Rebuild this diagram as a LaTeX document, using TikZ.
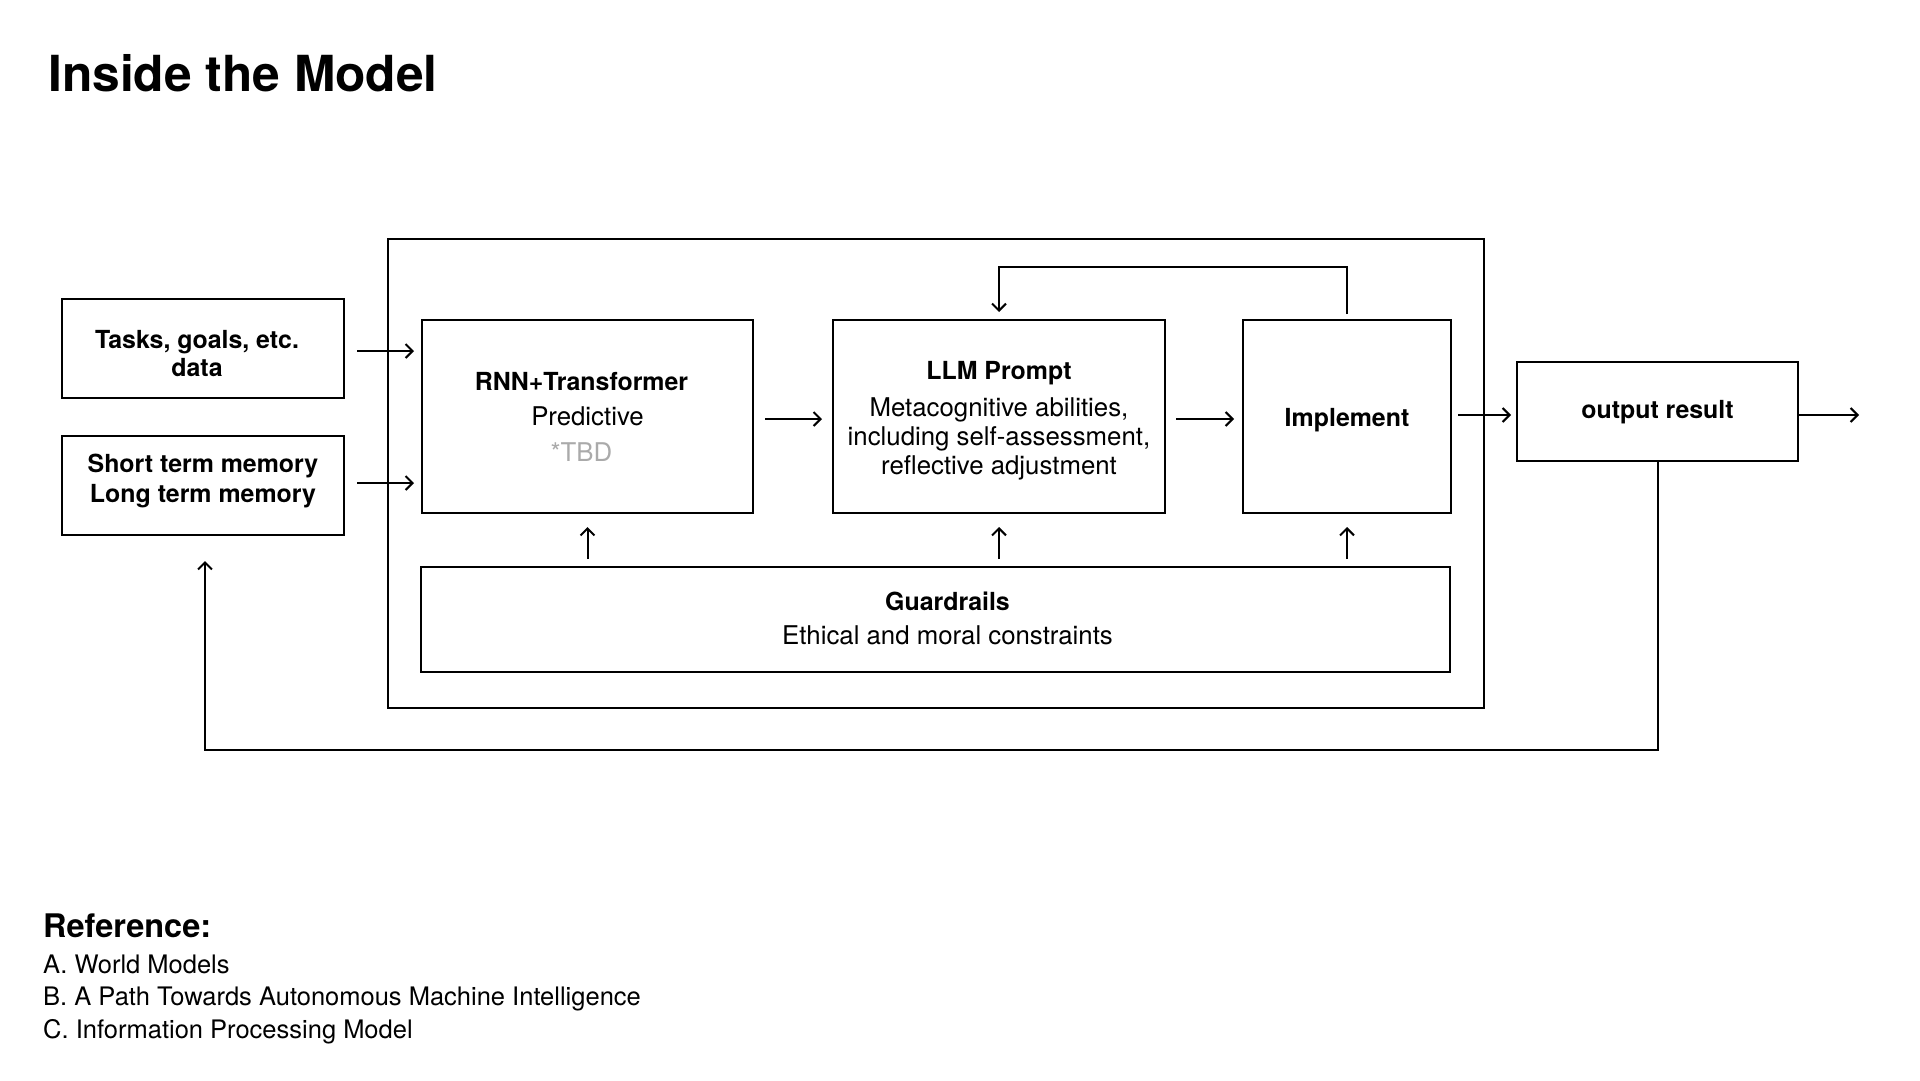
\documentclass[tikz,border=0pt]{standalone}
\usepackage{fontspec}
\setmainfont{TeX Gyre Heros}
\usetikzlibrary{arrows.meta,calc}
\definecolor{tbdgray}{HTML}{AAAAAA}
\newcommand\mvtext[2]{\raisebox{#1}[\height][\depth]{#2}}
\begin{document}
\begin{tikzpicture}[x=1pt,y=-1pt,
  box/.style={draw=black,line width=2pt,inner sep=0pt,align=center,
    font=\fontsize{25.8}{29.5}\selectfont},
  arr/.style={line width=2pt,-{Straight Barb[length=7pt,width=14pt]}}]
\useasboundingbox (0,0) rectangle (1920,1080);
% title
\node[anchor=west,inner sep=0pt,font=\fontsize{49.7}{58}\selectfont\bfseries] (title) at (48,73) {Inside the Model};
% outer container
\node[draw=black,line width=2pt,minimum width=1096pt,minimum height=469pt,inner sep=0pt] (outer) at (936,473.5) {};
% inputs
\node[box,minimum width=282pt,minimum height=99pt,font=\fontsize{24.9}{28.5}\selectfont\bfseries] (tasks) at (203,348.5) {\mvtext{-5pt}{Tasks, goals, etc.}\hspace*{12pt}\\\mvtext{-5pt}{data}\hspace*{12pt}};
\node[box,minimum width=282pt,minimum height=99pt,font=\fontsize{24.9}{30}\selectfont\bfseries] (short) at (203,485.5) {\mvtext{4.5pt}{Short term memory}\\\mvtext{4.5pt}{Long term memory}};
% inner boxes
\node[box,minimum width=331pt,minimum height=193pt] (rnn) at (587.5,416.5) {{\fontsize{24.9}{29}\selectfont\bfseries RNN+Transformer}\hspace*{12pt}\\[6pt]Predictive\hspace*{12pt}\\[6pt]{\color{tbdgray}*TBD}\hspace*{12pt}};
\node[box,minimum width=332pt,minimum height=193pt] (llm) at (999,416.5) {\mvtext{-5pt}{\fontsize{24.9}{29}\selectfont\bfseries LLM Prompt}\\[8pt]\mvtext{-4pt}{Metacognitive abilities,}\\\mvtext{-4pt}{including self-assessment,}\\\mvtext{-3pt}{reflective adjustment}};
\node[box,minimum width=208pt,minimum height=193pt] (impl) at (1347,416.5) {\mvtext{-4pt}{\fontsize{24.9}{29}\selectfont\bfseries Implement}};
\node[box,minimum width=1029pt,minimum height=105pt] (guard) at (935.5,619.5) {\hspace*{24pt}\mvtext{1pt}{\fontsize{24.9}{29}\selectfont\bfseries Guardrails}\\[4pt]\hspace*{24pt}\mvtext{1pt}{Ethical and moral constraints}};
\node[box,minimum width=281pt,minimum height=99pt] (output) at (1657.5,411.5) {\mvtext{-1pt}{\fontsize{24.9}{29}\selectfont\bfseries output result}};
% connectors
\draw[arr] ($(tasks.east)+(12,2.5)$) -- ($(rnn.west |- tasks.east)+(-7,2.5)$);
\draw[arr] ($(short.east)+(12,-2.5)$) -- ($(rnn.west |- short.east)+(-7,-2.5)$);
\draw[arr] ($(rnn.east)+(11,2.5)$) -- ($(llm.west)+(-10,2.5)$);
\draw[arr] ($(llm.east)+(10,2.5)$) -- ($(impl.west)+(-8,2.5)$);
\draw[arr] ($(impl.east)+(6,-1.5)$) -- ($(output.west |- impl.east)+(-5,-1.5)$);
\coordinate (outend) at (1859,415);
\draw[arr] ($(output.east |- outend)$) -- (outend);
\coordinate (fb) at (1347,267);
\draw[arr] ($(impl.north)+(0,-5)$) -- (fb) -| ($(llm.north)+(0,-7)$);
\draw[arr] ($(guard.north -| rnn.south)+(0,-7)$) -- ($(rnn.south)+(0,13)$);
\draw[arr] ($(guard.north -| llm.south)+(0,-7)$) -- ($(llm.south)+(0,13)$);
\draw[arr] ($(guard.north -| impl.south)+(0,-7)$) -- ($(impl.south)+(0,13)$);
\coordinate (loop) at (1657.5,750);
\draw[arr] (output.south) -- (loop) -| ($(short.south)+(2,25)$);
% references
\node[anchor=west,inner sep=0pt,font=\fontsize{32.5}{38}\selectfont\bfseries] (refhead) at (43,926) {Reference:};
\node[anchor=west,inner sep=0pt,font=\fontsize{25.5}{29}\selectfont] (refa) at (43,964) {A. World Models};
\node[anchor=west,inner sep=0pt,font=\fontsize{25.5}{29}\selectfont] (refb) at (43,998.5) {B. A Path Towards Autonomous Machine Intelligence};
\node[anchor=west,inner sep=0pt,font=\fontsize{25.5}{29}\selectfont] (refc) at (43,1032) {C. Information Processing Model};
\end{tikzpicture}
\end{document}
